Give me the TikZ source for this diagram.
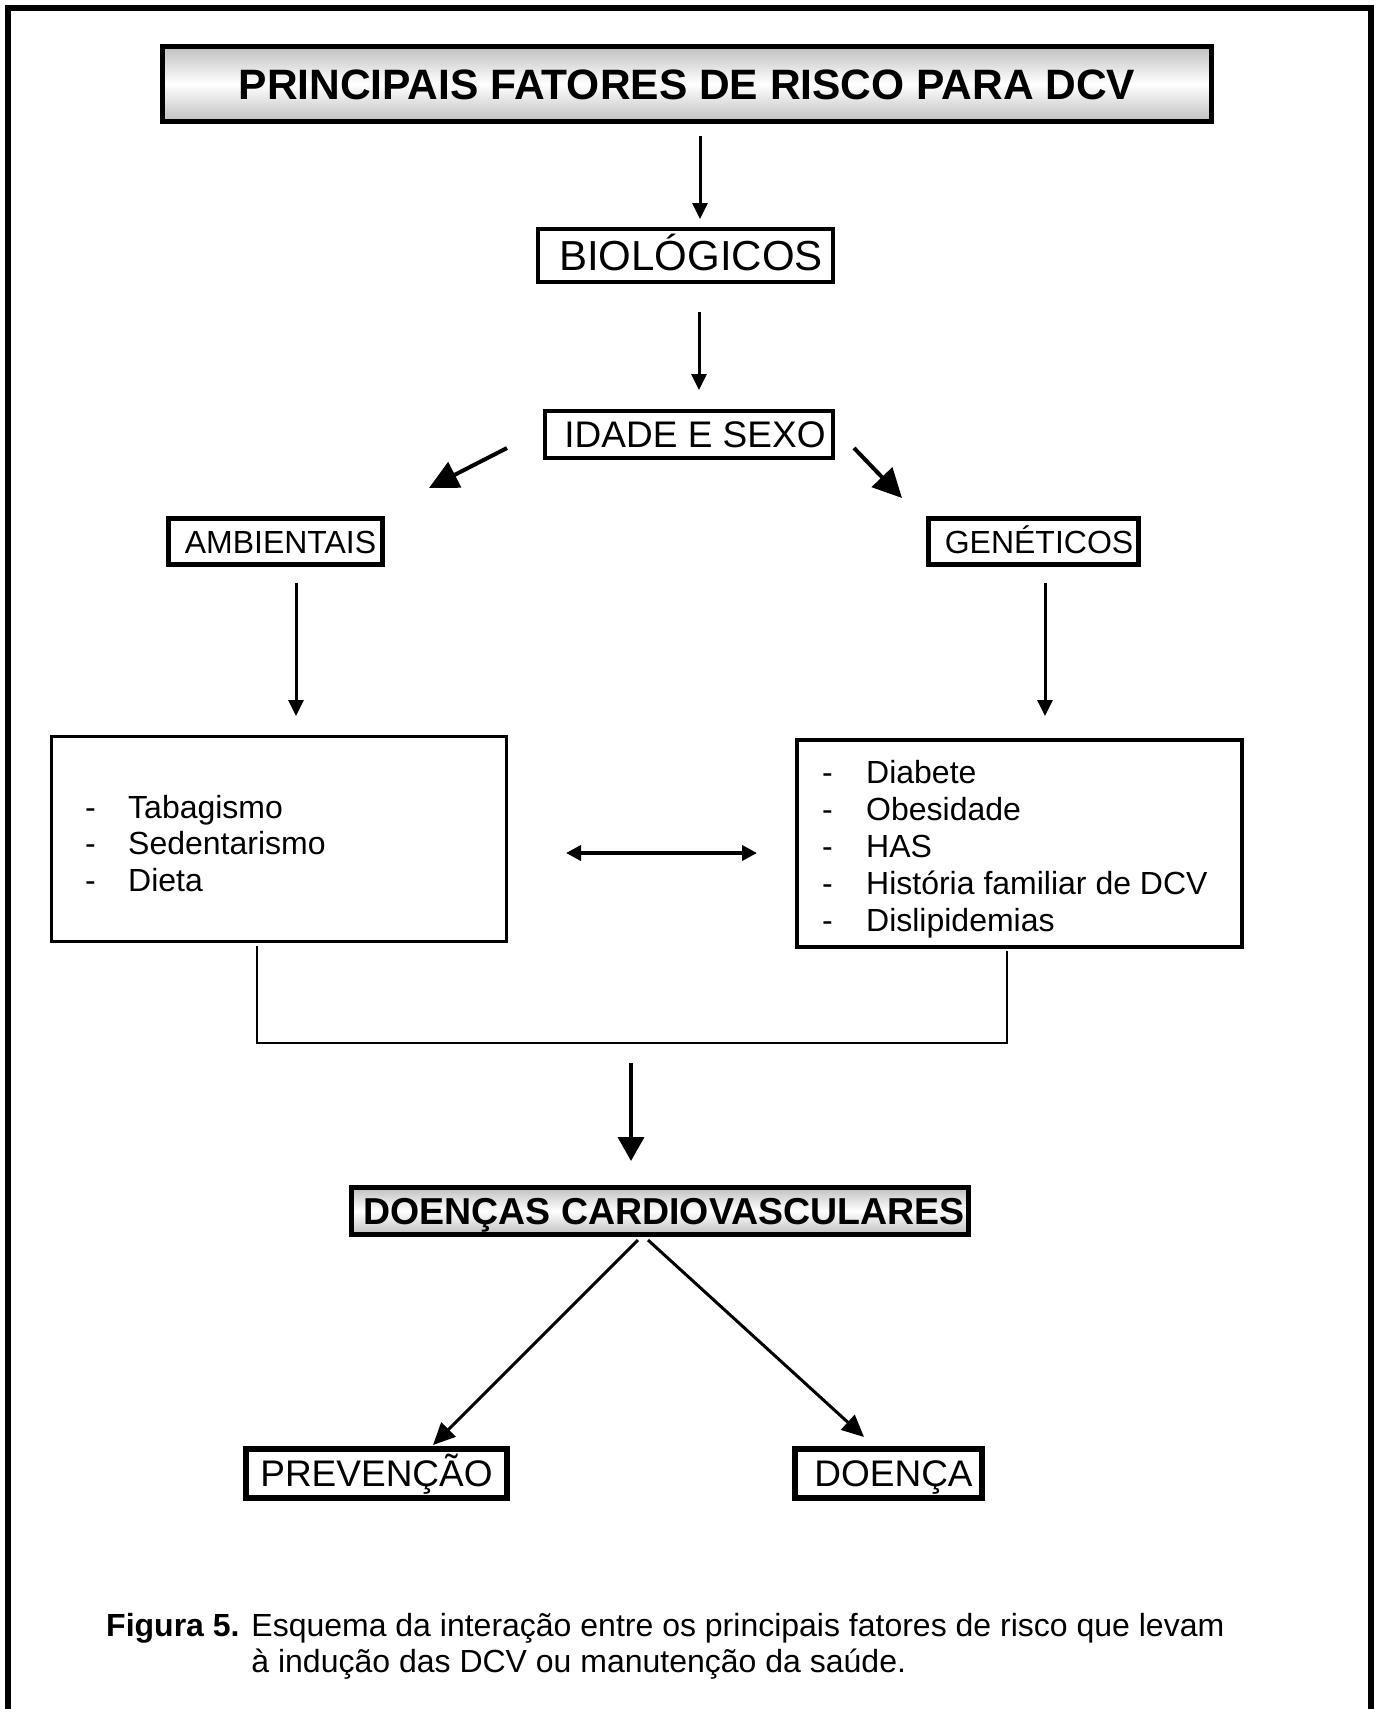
\documentclass[tikz,border=0pt]{standalone}
\usepackage{fontspec}
\setmainfont{Liberation Sans}
\usetikzlibrary{arrows.meta}
\begin{document}
\begin{tikzpicture}[x=1pt,y=-1pt,
  box/.style={draw, inner sep=0pt, text depth=0pt},
  glossy/.style={top color=gray!50, bottom color=gray!50, middle color=white},
  arr/.style={line width=3pt, -{Triangle[length=16pt,width=15pt]}},
  bigarr/.style={line width=4pt, -{Triangle[length=29pt,width=28pt]}},
  midarr/.style={line width=3pt, -{Triangle[length=22pt,width=20pt]}},
  heavyarr/.style={line width=3.5pt, -{Triangle[length=24pt,width=26pt]}},
  dblarr/.style={line width=4pt, {Triangle[length=15pt,width=15pt]}-{Triangle[length=15pt,width=15pt]}},
  joint/.style={line width=2.5pt},
  fbig/.style={font=\fontsize{42}{48}\selectfont, text height=30pt},
  fmid/.style={font=\fontsize{37}{44}\selectfont, text height=26.5pt},
  fsmall/.style={font=\fontsize{32}{36.5}\selectfont, text height=23pt}
]
\useasboundingbox (0,0) rectangle (1376,1709);

% outer frame (its lower edge lies below the page)
\draw[line width=6pt] (8,1740) -- (8,7.5) -- (1371,7.5) -- (1371,1740);

% boxes
\node[box, glossy, line width=5pt, minimum width=1049pt, minimum height=75pt,
      font=\fontsize{42.5}{50}\selectfont\bfseries, text height=30.4pt] (title) at (687,84)
      {PRINCIPAIS FATORES DE RISCO PARA DCV};
\node[box, fbig, line width=4pt, minimum width=295pt, minimum height=53pt] (bio) at (685.5,255.5)
      {\hspace*{11pt}BIOLÓGICOS};
\node[box, fmid, line width=4pt, minimum width=288pt, minimum height=47pt] (idade) at (689,434.5)
      {\hspace*{12pt}IDADE E SEXO};
\node[box, fsmall, line width=5pt, minimum width=214pt, minimum height=46pt] (amb) at (275.5,541.5)
      {\hspace*{10pt}AMBIENTAIS};
\node[box, fsmall, line width=5pt, minimum width=210pt, minimum height=46pt] (gen) at (1033.5,541.5)
      {\hspace*{11pt}GENÉTICOS};
\node[draw, line width=3pt, minimum width=455pt, minimum height=205pt] (envbox) at (279,839) {};
\node[draw, line width=4pt, minimum width=445pt, minimum height=207pt] (genbox) at (1019.5,843.5) {};
\node[box, glossy, line width=5pt, minimum width=617pt, minimum height=47pt,
      font=\fontsize{37.5}{44}\selectfont\bfseries, text height=26.8pt] (dcv) at (660,1211)
      {\hspace*{8pt}DOENÇAS CARDIOVASCULARES};
\node[box, fmid, line width=6pt, minimum width=261pt, minimum height=49pt] (prev) at (376.5,1473.5)
      {PREVENÇÃO};
\node[box, fmid, line width=6pt, minimum width=187pt, minimum height=49pt] (doenca) at (888.5,1473.5)
      {\hspace*{10pt}DOENÇA};

% item lists
\node[font=\fontsize{32}{36.5}\selectfont, inner sep=0pt, anchor=base west] (envlist) at (85,818)
  {\begin{tabular}[t]{@{}p{43pt}@{}l@{}}
   - & Tabagismo\\
   - & Sedentarismo\\
   - & Dieta
   \end{tabular}};
\node[font=\fontsize{32}{37}\selectfont, inner sep=0pt, anchor=base west] (genlist) at (822,783)
  {\begin{tabular}[t]{@{}p{44pt}@{}l@{}}
   - & Diabete\\
   - & Obesidade\\
   - & HAS\\
   - & História familiar de DCV\\
   - & Dislipidemias
   \end{tabular}};

% caption
\node[font=\fontsize{32}{36}\selectfont, inner sep=0pt, anchor=base west] (caption) at (106,1636)
  {\begin{tabular}[t]{@{}l@{ }l@{}}
   \textbf{Figura 5.} & Esquema da interação entre os principais fatores de risco que levam\\
   & à indução das DCV ou manutenção da saúde.
   \end{tabular}};

% connector end points
\coordinate (a1s) at (700,136);   \coordinate (a1e) at (700,219);
\coordinate (a2s) at (699,312);   \coordinate (a2e) at (699,390);
\coordinate (a3s) at (507,448);   \coordinate (a3e) at (429,488);
\coordinate (a4s) at (854,448);   \coordinate (a4e) at (902,498);
\coordinate (a5s) at (296,583);   \coordinate (a5e) at (296,716);
\coordinate (a6s) at (1045,583);  \coordinate (a6e) at (1045,716);
\coordinate (d1) at (566,853);    \coordinate (d2) at (757,853);
\coordinate (jl) at (257,1043);   \coordinate (jr) at (1007,1043);
\coordinate (a7s) at (631,1063);  \coordinate (a7e) at (631,1161);
\coordinate (a8s) at (638,1240);  \coordinate (a8e) at (433,1445);
\coordinate (a9s) at (648,1240);  \coordinate (a9e) at (864,1437);

% connectors
\draw[arr] (a1s) -- (a1e);
\draw[arr] (a2s) -- (a2e);
\draw[bigarr] (a3s) -- (a3e);
\draw[bigarr] (a4s) -- (a4e);
\draw[arr] (a5s) -- (a5e);
\draw[arr] (a6s) -- (a6e);
\draw[dblarr] (d1) -- (d2);
\draw[joint] ([yshift=-3pt]envbox.south -| jl) -- (jl) -- (jr) -- ([yshift=-2pt]genbox.south -| jr);
\draw[heavyarr] (a7s) -- (a7e);
\draw[midarr] (a8s) -- (a8e);
\draw[midarr] (a9s) -- (a9e);
\end{tikzpicture}
\end{document}
